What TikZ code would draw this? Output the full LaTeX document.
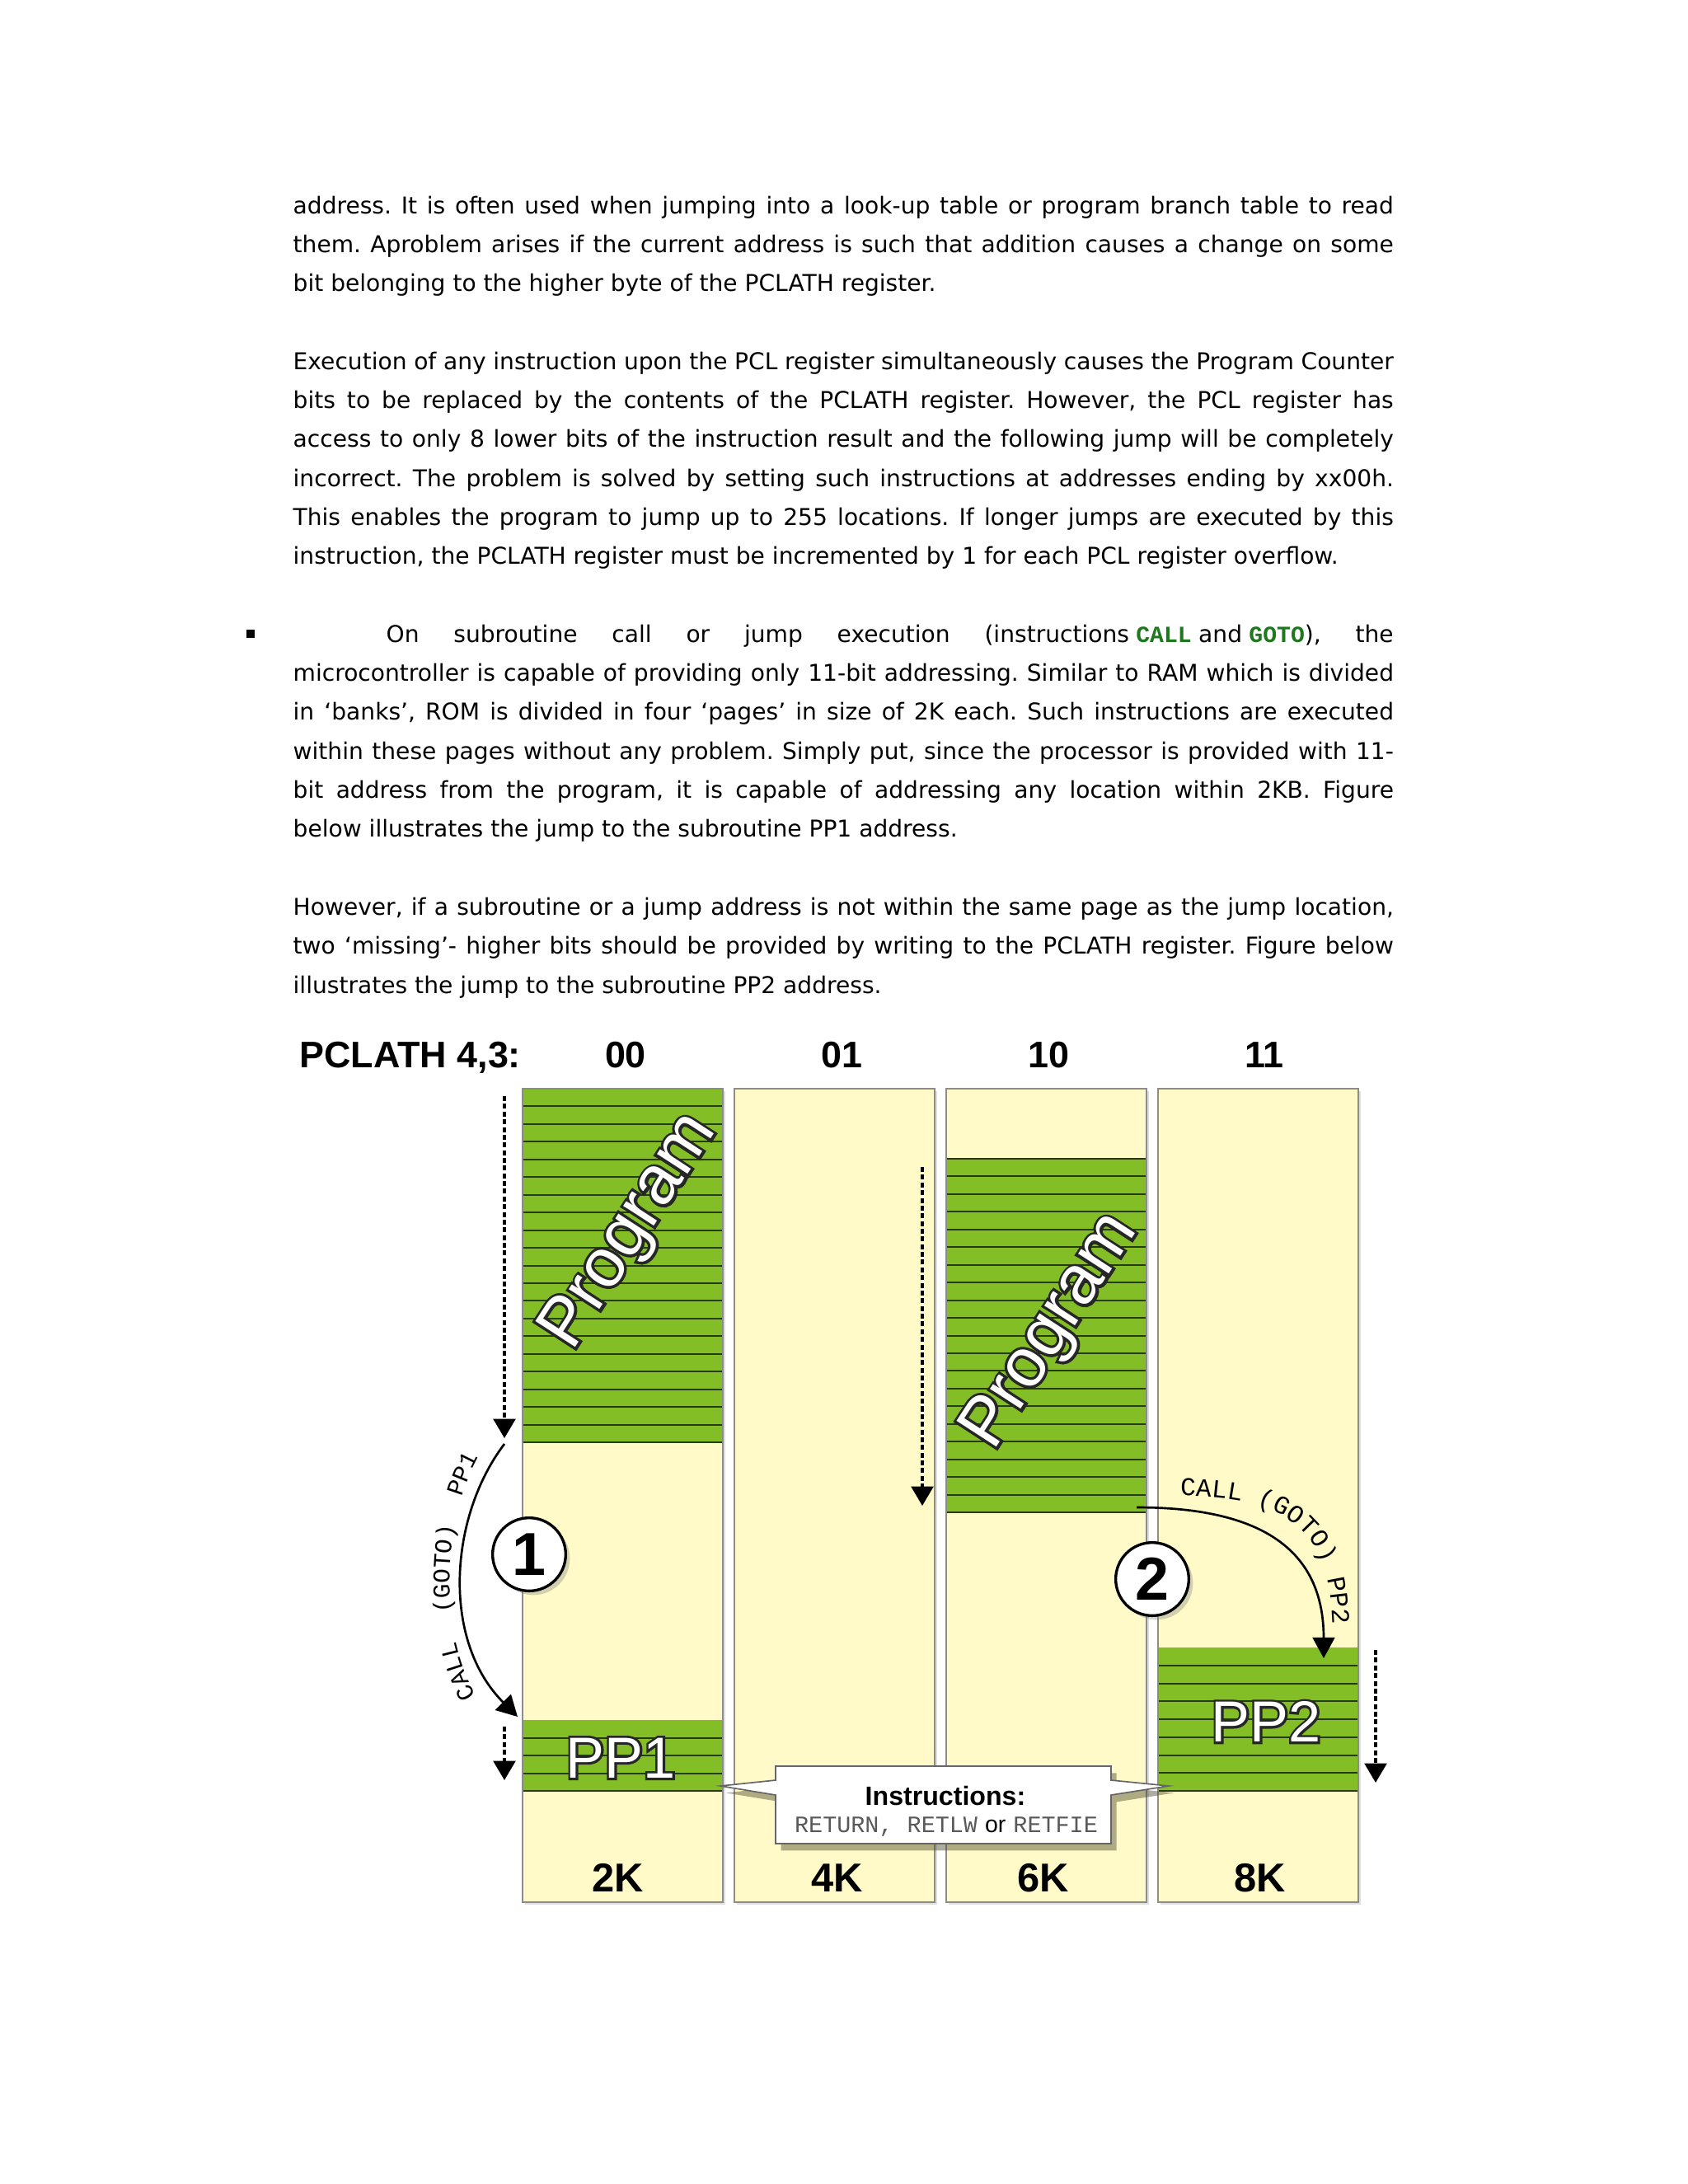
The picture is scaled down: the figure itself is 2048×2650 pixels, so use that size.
\documentclass[tikz,border=0pt]{standalone}
\usepackage{fontspec}
\setmainfont{DejaVu Sans}
\setmonofont{Liberation Mono}
\newfontfamily\labelfont{Liberation Sans}
\newfontfamily\labelrim{Liberation Sans}[FakeBold=8]
\usetikzlibrary{arrows.meta,decorations.text,shadows}
\frenchspacing

\definecolor{pageyellow}{RGB}{255,250,200}
\definecolor{progreen}{RGB}{132,190,38}
\definecolor{stripedark}{RGB}{38,58,12}
\definecolor{codegreen}{RGB}{30,120,30}

% white letters with a dark rim
\newcommand\outlined[1]{\leavevmode\rlap{\labelrim\color{black!85}#1}\textcolor{white}{#1}}
\newcommand\code[1]{\textcolor{codegreen}{\ttfamily\bfseries #1}}

\begin{document}
\begin{tikzpicture}[
  x=0.29883pt, y=-0.29883pt,
  body/.style={anchor=base west, inner sep=0pt, font=\fontsize{8.4}{11}\selectfont},
  page/.style={fill=pageyellow,
    drop shadow={shadow xshift=.8pt, shadow yshift=-.8pt, opacity=.25}},
  pageedge/.style={draw=black!45, line width=.6pt},
  progfill/.style={fill=progreen},
  stripe/.style={draw=stripedark, line width=.6pt},
  bitlabel/.style={anchor=base, inner sep=0pt,
    font=\labelfont\bfseries\fontsize{13.4}{14}\selectfont},
  sizelabel/.style={anchor=base, inner sep=0pt,
    font=\labelfont\bfseries\fontsize{14.6}{15}\selectfont},
  bigtext/.style={inner sep=0pt, font=\labelfont\fontsize{25}{25}\selectfont},
  pptext/.style={inner sep=0pt, font=\labelfont\fontsize{21}{21}\selectfont},
  run/.style={line width=1pt, dash pattern=on 1.8pt off 1pt,
    -{Triangle[width=8pt,length=7pt]}},
  jump/.style={line width=.8pt, -{Triangle[width=8pt,length=7.5pt]}},
  stepmark/.style={circle, draw, line width=1pt, fill=white,
    minimum size=26.5pt, inner sep=0pt,
    font=\labelfont\bfseries\fontsize{22}{22}\selectfont,
    drop shadow={shadow xshift=1.5pt, shadow yshift=-1.5pt, opacity=.35}},
  note/.style={fill=white, draw=black!60, line width=.5pt,
    drop shadow={shadow xshift=2pt, shadow yshift=-2.5pt,
      fill=black!60!olive, opacity=.45}}
]
  \useasboundingbox (0,0) rectangle (2048,2650);
  \fill[white] (0,0) rectangle (2048,2650);

  % Running text above the figure
  \node[body] (t1) at (355,259) {\makebox[399pt][s]{address. It is often used when jumping into a look-up table or program branch table to read}};
  \node[body] (t2) at (355,306.3) {\makebox[399pt][s]{them. Aproblem arises if the current address is such that addition causes a change on some}};
  \node[body] (t3) at (355,353.6) {bit belonging to the higher byte of the PCLATH register.};

  \node[body] (t4) at (355,448.2) {\makebox[399pt][s]{Execution of any instruction upon the PCL register simultaneously causes the Program Counter}};
  \node[body] (t5) at (355,495.5) {\makebox[399pt][s]{bits to be replaced by the contents of the PCLATH register. However, the PCL register has}};
  \node[body] (t6) at (355,542.8) {\makebox[399pt][s]{access to only 8 lower bits of the instruction result and the following jump will be completely}};
  \node[body] (t7) at (355,590.1) {\makebox[399pt][s]{incorrect. The problem is solved by setting such instructions at addresses ending by xx00h.}};
  \node[body] (t8) at (355,637.4) {\makebox[399pt][s]{This enables the program to jump up to 255 locations. If longer jumps are executed by this}};
  \node[body] (t9) at (355,684.7) {instruction, the PCLATH register must be incremented by 1 for each PCL register overflow.};

  \fill (299,764) rectangle (309,774);
  \node[body] (t10) at (468,779.3) {\makebox[365.2pt][s]{On subroutine call or jump execution (instructions\hspace{2.5pt}\code{CALL}\hspace{2.5pt}and\hspace{2.5pt}\code{GOTO}), the}};
  \node[body] (t11) at (355,826.6) {\makebox[399pt][s]{microcontroller is capable of providing only 11-bit addressing. Similar to RAM which is divided}};
  \node[body] (t12) at (355,873.9) {\makebox[399pt][s]{in ‘banks’, ROM is divided in four ‘pages’ in size of 2K each. Such instructions are executed}};
  \node[body] (t13) at (355,921.2) {\makebox[399pt][s]{within these pages without any problem. Simply put, since the processor is provided with 11-}};
  \node[body] (t14) at (355,968.5) {\makebox[399pt][s]{bit address from the program, it is capable of addressing any location within 2KB. Figure}};
  \node[body] (t15) at (355,1015.8) {below illustrates the jump to the subroutine PP1 address.};

  \node[body] (t16) at (355,1110.4) {\makebox[399pt][s]{However, if a subroutine or a jump address is not within the same page as the jump location,}};
  \node[body] (t17) at (355,1157.7) {\makebox[399pt][s]{two ‘missing’- higher bits should be provided by writing to the PCLATH register. Figure below}};
  \node[body] (t18) at (355,1205) {illustrates the jump to the subroutine PP2 address.};

  % Four ROM pages
  \node[bitlabel, anchor=base west] (pclath) at (363,1295) {PCLATH 4,3:};
  \foreach \i/\bits/\bx/\size/\sx in {0/00/759/2K/750,1/01/1021/4K/1016,2/10/1272/6K/1266,3/11/1534/8K/1529} {
    \path[page] (634+257*\i,1321) rectangle ++(243,987);
    \node[bitlabel] (bits\i) at (\bx,1295) {\bits};
    \node[sizelabel] (size\i) at (\sx,2295) {\size};
  }

  % Program blocks and subroutines
  \fill[progfill] (634,1321) rectangle (877,1750);
  \foreach \k in {0,...,20}
    \draw[stripe] (634,1321+21.45*\k) -- (877,1321+21.45*\k);
  \fill[progfill] (1148,1406) rectangle (1391,1835);
  \foreach \k in {0,...,20}
    \draw[stripe] (1148,1406+21.45*\k) -- (1391,1406+21.45*\k);
  \fill[progfill] (634,2087) rectangle (877,2173);
  \foreach \k in {1,...,4}
    \draw[stripe] (634,2087+21.5*\k) -- (877,2087+21.5*\k);
  \fill[progfill] (1405,1999) rectangle (1648,2173);
  \foreach \k in {1,...,8}
    \draw[stripe] (1405,1999+21.75*\k) -- (1648,1999+21.75*\k);
  \foreach \i in {0,...,3}
    \draw[pageedge] (634+257*\i,1321) rectangle ++(243,987);

  \node[bigtext, rotate=57] (prog0) at (765,1495) {\outlined{Program}};
  \node[bigtext, rotate=57] (prog2) at (1276,1616) {\outlined{Program}};
  \node[pptext] (pp1) at (753,2133) {\outlined{PP1}};
  \node[pptext] (pp2) at (1536,2089) {\outlined{PP2}};

  % Program flow
  \coordinate (run0a) at (612,1330);
  \coordinate (run0b) at (612,1745);
  \coordinate (run2a) at (1119,1416);
  \coordinate (run2b) at (1119,1827);
  \coordinate (sub1a) at (612,2095);
  \coordinate (sub1b) at (612,2160);
  \coordinate (sub2a) at (1669,2002);
  \coordinate (sub2b) at (1669,2163);
  \draw[run] (run0a) -- (run0b);
  \draw[run] (run2a) -- (run2b);
  \draw[run] (sub1a) -- (sub1b);
  \draw[run] (sub2a) -- (sub2b);

  % Calls into the subroutines
  \coordinate (call1) at (612,1752);
  \coordinate (entry1) at (628,2083);
  \coordinate (call2) at (1379,1829);
  \coordinate (entry2) at (1606,2012);
  \draw[jump] (call1) .. controls (545,1840) and (535,1990) .. (entry1);
  \draw[jump] (call2) .. controls (1530,1829) and (1606,1880) .. (entry2);
  \path[decorate, decoration={text along path, text align=center,
      text={|\ttfamily\fontsize{8.8}{9}\selectfont|CALL{ }{ }(GOTO){ }{ }PP1}}]
    (583,2065) .. controls (535,2000) and (530,1850) .. (585,1760);
  \path[decorate, decoration={text along path, text align=left,
      text={|\ttfamily\fontsize{9.3}{10}\selectfont|CALL{ }(GOTO){ }PP2}}]
    (1432,1815) .. controls (1585,1815) and (1617,1875) .. (1617,1990);

  \node[stepmark] (one) at (642,1886) {1};
  \node[stepmark] (two) at (1398,1916) {2};

  % Return note
  \path[note] (941,2143) -- (1348,2143) -- (1348,2160) -- (1418,2167)
    -- (1348,2178) -- (1348,2237) -- (941,2237) -- (941,2178)
    -- (874,2167) -- (941,2160) -- cycle;
  \node[anchor=base, inner sep=0pt,
    font=\labelfont\bfseries\fontsize{9.6}{10}\selectfont]
    (notehead) at (1147,2190) {Instructions:};
  \node[anchor=base, inner sep=0pt, font=\fontsize{8.5}{9}\selectfont]
    (notebody) at (1148,2223)
    {\textcolor{black!65}{\ttfamily RETURN, RETLW} {\labelfont or} \textcolor{black!65}{\ttfamily RETFIE}};
\end{tikzpicture}
\end{document}
